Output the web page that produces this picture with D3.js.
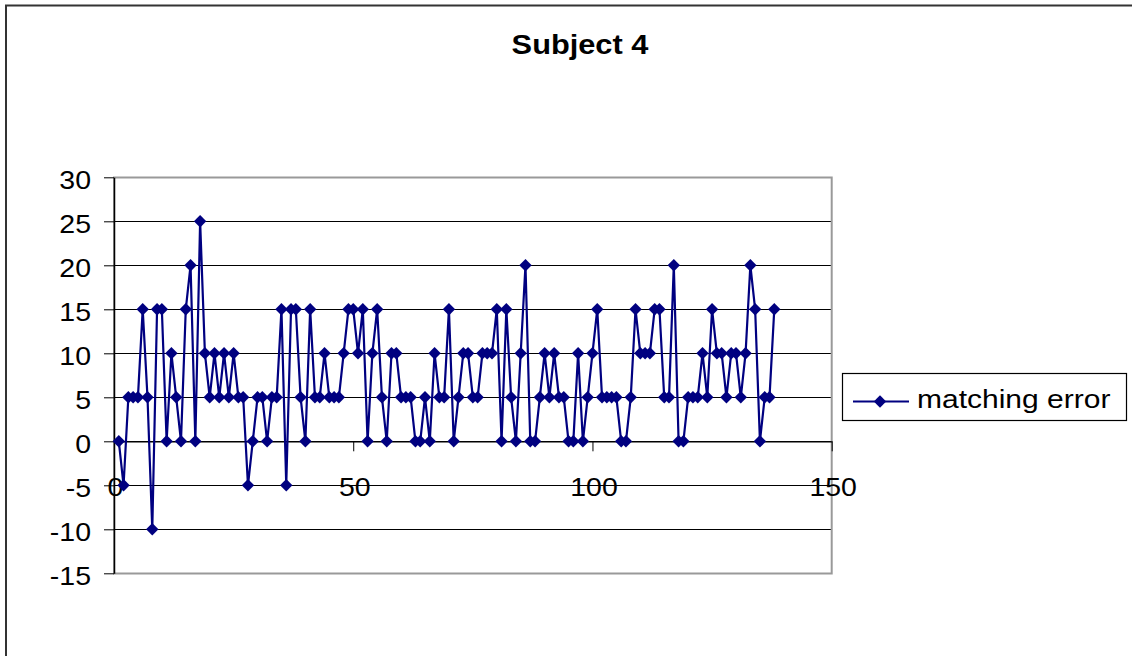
<!DOCTYPE html>
<html>
<head>
<meta charset="utf-8">
<script src="https://cdn.jsdelivr.net/npm/d3@7"></script>
<style>
  html, body { margin: 0; padding: 0; background: #fff; }
  svg { display: block; font-family: Arial, "Liberation Sans", sans-serif; }
</style>
</head>
<body>
<svg id="chart" width="1132" height="656"></svg>
<script>
// Matching error per trial (trial number = position + 1)
const matchingError = [
  0, -5, 5, 5, 5, 15, 5, -10, 15, 15,
  0, 10, 5, 0, 15, 20, 0, 25, 10, 5,
  10, 5, 10, 5, 10, 5, 5, -5, 0, 5,
  5, 0, 5, 5, 15, -5, 15, 15, 5, 0,
  15, 5, 5, 10, 5, 5, 5, 10, 15, 15,
  10, 15, 0, 10, 15, 5, 0, 10, 10, 5,
  5, 5, 0, 0, 5, 0, 10, 5, 5, 15,
  0, 5, 10, 10, 5, 5, 10, 10, 10, 15,
  0, 15, 5, 0, 10, 20, 0, 0, 5, 10,
  5, 10, 5, 5, 0, 0, 10, 0, 5, 10,
  15, 5, 5, 5, 5, 0, 0, 5, 15, 10,
  10, 10, 15, 15, 5, 5, 20, 0, 0, 5,
  5, 5, 10, 5, 15, 10, 10, 5, 10, 10,
  5, 10, 20, 15, 0, 5, 5, 15
];
const xTicks = [0, 50, 100, 150];
const yTicks = [-15, -10, -5, 0, 5, 10, 15, 20, 25, 30];
const chartTitle = "Subject 4";
const seriesName = "matching error";

const points = matchingError.map((v, i) => ({ trial: i + 1, value: v }));

const svg = d3.select("#chart");
const plot = { left: 114, right: 831.7, top: 177.3, bottom: 573.3 };
const navy = "#000080";
const stretch = 1.14; // horizontal text stretch

const x = d3.scaleLinear().domain([0, 150]).range([plot.left, plot.right]);
const y = d3.scaleLinear().domain([-15, 30]).range([plot.bottom, plot.top]);

// outer chart frame (runs off the right and bottom edges)
svg.append("rect")
  .attr("x", 6).attr("y", 5.5)
  .attr("width", 1200).attr("height", 800)
  .attr("fill", "none").attr("stroke", "#333").attr("stroke-width", 2);

// title
svg.append("text")
  .attr("transform", `translate(580,54) scale(${stretch},1)`)
  .attr("text-anchor", "middle")
  .attr("font-size", 27).attr("font-weight", "bold")
  .text(chartTitle);

// horizontal gridlines
svg.append("g").selectAll("line")
  .data(yTicks)
  .join("line")
  .attr("x1", plot.left).attr("x2", plot.right)
  .attr("y1", d => Math.round(y(d)) + 0.5).attr("y2", d => Math.round(y(d)) + 0.5)
  .attr("stroke", "#000").attr("stroke-width", 1);

// plot area border (grey)
svg.append("rect")
  .attr("x", plot.left).attr("y", Math.round(plot.top) + 0.5)
  .attr("width", plot.right - plot.left).attr("height", Math.round(plot.bottom) - Math.round(plot.top))
  .attr("fill", "none").attr("stroke", "#999").attr("stroke-width", 2);

// y axis
const yAxis = d3.axisLeft(y).tickValues(yTicks).tickSizeInner(10).tickSizeOuter(0).tickFormat(d3.format("d"));
const gy = svg.append("g").attr("transform", `translate(${plot.left},0)`).call(yAxis);
gy.select(".domain").attr("stroke", "#000").attr("stroke-width", 1.5);
gy.selectAll(".tick line").attr("stroke", "#000");
gy.selectAll(".tick text").remove();
gy.selectAll(".tick").append("text")
  .attr("transform", `translate(-23,11) scale(${stretch},1)`)
  .attr("text-anchor", "end")
  .attr("fill", "#000")
  .attr("font-size", 25)
  .text(d => d3.format("d")(d).replace("−", "-"));

// x axis at zero
const xAxis = d3.axisBottom(x).tickValues(xTicks).tickSizeInner(10).tickSizeOuter(0);
const gx = svg.append("g").attr("transform", `translate(0,${y(0)})`).call(xAxis);
gx.select(".domain").attr("stroke", "#000").attr("stroke-width", 1.2);
gx.selectAll(".tick line").attr("stroke", "#000");
gx.selectAll(".tick text").remove();
gx.selectAll(".tick").append("text")
  .attr("transform", `translate(1,55) scale(${stretch},1)`)
  .attr("text-anchor", "middle")
  .attr("fill", "#000")
  .attr("font-size", 25)
  .text(d => d);

// series line
const line = d3.line().x(d => x(d.trial)).y(d => y(d.value));
svg.append("path")
  .datum(points)
  .attr("d", line)
  .attr("fill", "none")
  .attr("stroke", navy)
  .attr("stroke-width", 2.2);

// diamond markers
const diamond = d3.symbol().type(d3.symbolDiamond2).size(98);
svg.append("g").selectAll("path")
  .data(points)
  .join("path")
  .attr("transform", d => `translate(${x(d.trial)},${y(d.value)})`)
  .attr("d", diamond)
  .attr("fill", navy);

// legend
const lg = svg.append("g");
lg.append("rect")
  .attr("x", 842.5).attr("y", 373.5).attr("width", 284).attr("height", 47)
  .attr("fill", "#fff").attr("stroke", "#000").attr("stroke-width", 1.2);
lg.append("line")
  .attr("x1", 853).attr("x2", 909).attr("y1", 401.5).attr("y2", 401.5)
  .attr("stroke", navy).attr("stroke-width", 2);
lg.append("path")
  .attr("transform", "translate(880,401.5)")
  .attr("d", diamond)
  .attr("fill", navy);
lg.append("text")
  .attr("transform", `translate(917,408) scale(1.2,1)`)
  .attr("font-size", 25)
  .attr("fill", "#000")
  .text(seriesName);
</script>
</body>
</html>
